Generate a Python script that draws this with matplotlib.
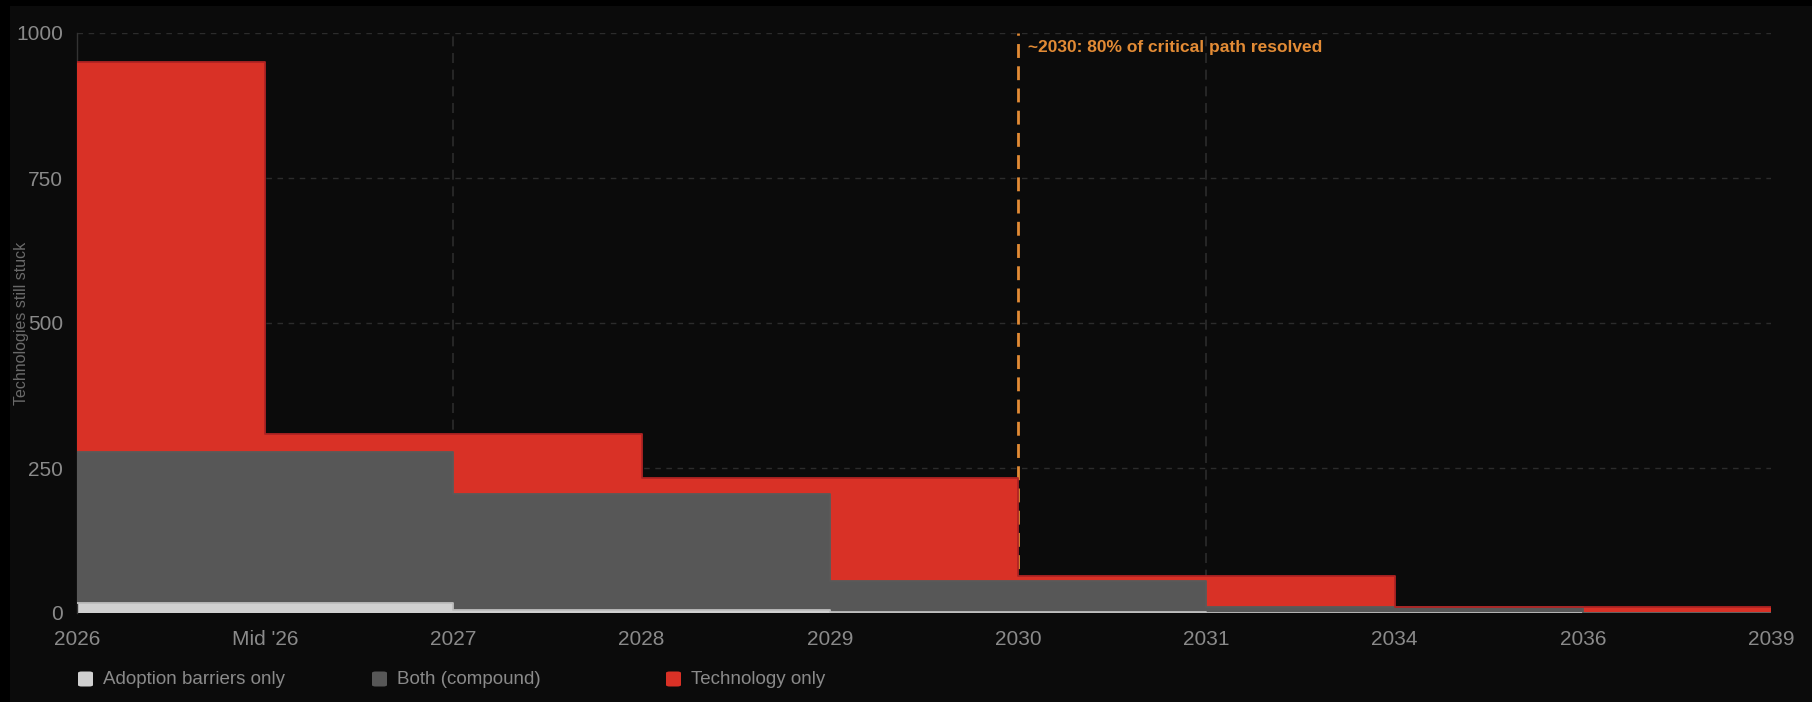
import matplotlib
matplotlib.use("Agg")
import matplotlib.pyplot as plt
from matplotlib.patches import Rectangle, FancyBboxPatch
import numpy as np

# ---- data ----
categories = ["2026", "Mid '26", "2027", "2028", "2029", "2030", "2031", "2034", "2036", "2039"]
adoption_only = [17, 17, 6, 6, 2, 2, 0, 0, 0, 0]
both_compound = [260, 260, 200, 200, 53, 53, 11, 11, 0, 0]
technology_only = [673, 32, 103, 27, 178, 8, 52, 0, 11, 11]
series_names = ["Adoption barriers only", "Both (compound)", "Technology only"]
y_ticks = [0, 250, 500, 750, 1000]
vgrid_labels = ["2027", "2031"]
marker_label = "2030"
marker_text = "~2030: 80% of critical path resolved"
y_label = "Technologies still stuck"

# ---- style ----
BG = "#0b0b0b"
fills = ["#d0d0d0", "#575757", "#d93126"]
edges = ["#bdbdbd", "#5a5a5a", "#b02323"]
GRID = "#2c2c2c"
TICK = "#8a8a8a"
ORANGE = "#e38b35"

plt.rcParams["font.family"] = ["Liberation Sans", "DejaVu Sans"]

fig = plt.figure(figsize=(18.12, 7.02), dpi=100, facecolor="#000000")
W, H = 1812, 702
fig.patches.append(Rectangle((10 / W, 0 / H), 1 - 10 / W, 1 - 6 / H,
                             transform=fig.transFigure, facecolor=BG,
                             edgecolor="none", zorder=-10))

ax = fig.add_axes([77 / W, (H - 613) / H, (1771 - 77) / W, (613 - 33) / H])
ax.set_facecolor(BG)

x = np.arange(len(categories))
a = np.array(adoption_only, dtype=float)
b = np.array(both_compound, dtype=float)
t = np.array(technology_only, dtype=float)
levels = [np.zeros_like(a), a, a + b, a + b + t]

# gridlines
for yv in y_ticks[1:]:
    ax.axhline(yv, color=GRID, lw=1, ls=(0, (4, 4)), zorder=0)
for lab in vgrid_labels:
    ax.axvline(categories.index(lab), color=GRID, lw=1.2, ls=(0, (6, 4)), zorder=0)

# orange marker line
ax.axvline(categories.index(marker_label), color=ORANGE, lw=2, ls=(0, (5, 3)), zorder=1)

# stacked step areas
for i in range(3):
    ax.fill_between(x, levels[i], levels[i + 1], step="post",
                    facecolor=fills[i], edgecolor="none", zorder=2 + i)
for i in range(3):
    ax.step(x, levels[i + 1], where="post", color=edges[i], lw=1.3, zorder=5 + i)

ax.text(categories.index(marker_label) + 0.055, 975, marker_text, color=ORANGE,
        fontsize=12.5, fontweight="bold", ha="left", va="center", zorder=10)

ax.set_xlim(0, len(categories) - 1)
ax.set_ylim(0, 1000)
ax.set_xticks(x)
ax.set_xticklabels(categories)
ax.set_yticks(y_ticks)
ax.tick_params(axis="both", length=0, colors=TICK, labelsize=15)
ax.tick_params(axis="x", pad=12)
ax.tick_params(axis="y", pad=10)
for s in ["top", "right", "bottom"]:
    ax.spines[s].set_visible(False)
ax.spines["left"].set_color("#333333")
ax.spines["left"].set_linewidth(1)

fig.text(22 / W, 1 - 323 / H, y_label, rotation=90, color="#6a6a6a",
         fontsize=11.5, ha="center", va="center",
         family=["Liberation Sans Narrow", "Liberation Sans", "DejaVu Sans"])

# legend
leg_x = [78, 372, 666]
leg_y = 679
for i, name in enumerate(series_names):
    fig.patches.append(FancyBboxPatch((leg_x[i] / W, (H - leg_y - 7.5) / H), 15 / W, 15 / H,
                                      boxstyle="round,pad=0,rounding_size=0.002",
                                      transform=fig.transFigure, facecolor=fills[i],
                                      edgecolor="none"))
    fig.text((leg_x[i] + 25) / W, (H - leg_y) / H, name, color=TICK, fontsize=13.5,
             ha="left", va="center")

fig.savefig("out.png", dpi=100, facecolor=fig.get_facecolor())
